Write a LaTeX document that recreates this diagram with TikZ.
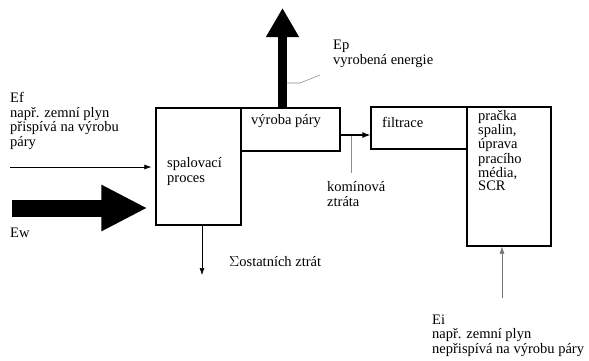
\documentclass[tikz,border=0pt]{standalone}
\usepackage{fontspec}
\setmainfont{Liberation Serif}
\usetikzlibrary{arrows.meta}

\begin{document}
\begin{tikzpicture}[x=1pt, y=-1pt,
		box/.style={draw, line width=1.2pt, inner sep=0pt},
		txt/.style={inner sep=0pt, align=left, anchor=base west,
		font=\fontsize{14.5pt}{14.5pt}\selectfont},
		thinarrow/.style={line width=0.6pt, -{Latex[length=7pt,width=5pt]}},
		leader/.style={line width=0.6pt, black!45},
		eparrow/.style={line width=9pt, -{Triangle[length=29pt,width=31pt]}},
		ewarrow/.style={line width=17pt, -{Triangle[length=46pt,width=43pt]}} ]
	\useasboundingbox (0,0) rectangle (589,360);
	% boxes
	\node[box, minimum width=85pt, minimum height=117pt] (spal) at (198.5,166.5) {};
	\node[box, minimum width=99pt, minimum height=43pt] (vyroba) at (290.5,129.5) {};
	\node[box, minimum width=96pt, minimum height=42pt] (filtr) at (419,128) {};
	\node[box, minimum width=84pt, minimum height=139pt] (pracka) at (509,176.5) {};
	% texts (base = last line)
	\node[txt] (spaltxt) at (167,182) {spalovací\\proces};
	\node[txt] (vyrtxt) at (251,124) {výroba páry};
	\node[txt] (filtxt) at (382,127) {filtrace};
	\node[txt, font=\fontsize{14.5pt}{11.7pt}\selectfont] (prtxt) at (478,190)
		{pračka\\spalin,\\úprava\\pracího\\média,\\SCR};
	\node[txt] (eftxt) at (10,146) {Ef\\např. zemní plyn\\přispívá na výrobu\\páry};
	\node[txt] (ewtxt) at (10,237) {Ew};
	\node[txt] (eptxt) at (333,64) {Ep\\vyrobená energie};
	\node[txt] (komtxt) at (327,206) {komínová\\ztráta};
	\node[txt] (sigtxt) at (229,266) {$\Sigma$ostatních ztrát};
	\node[txt] (eitxt) at (432,353) {Ei\\např. zemní plyn\\nepřispívá na výrobu páry};
	% free ends
	\coordinate (eptip) at (282.5,8);
	\coordinate (eplead) at (320,75);
	\coordinate (epfoot) at (300,83);
	\coordinate (ewtail) at (12,208);
	\coordinate (eftail) at (10,167);
	\coordinate (kom) at (351,135);
	\coordinate (komend) at (351,173);
	\coordinate (sigend) at (202,275);
	\coordinate (eitail) at (502,298);
	% connectors
	\draw[leader] (epfoot -| eptip) -- (epfoot) -- (eplead);
	\draw[eparrow] (eptip |- vyroba.north) -- (eptip);
	\draw[ewarrow, shorten >=8pt] (ewtail) -- (ewtail -| spal.west);
	\draw[thinarrow, shorten >=4pt] (eftail) -- (eftail -| spal.west);
	\draw[leader] (kom) -- (komend);
	\draw[line width=1.2pt, -{Latex[length=8pt,width=6pt]}] (kom -| vyroba.east) -- (kom -| filtr.west);
	\draw[thinarrow] (sigend |- spal.south) -- (sigend);
	\draw[thinarrow, black!55] (eitail) -- (eitail |- pracka.south);
\end{tikzpicture}
\end{document}
